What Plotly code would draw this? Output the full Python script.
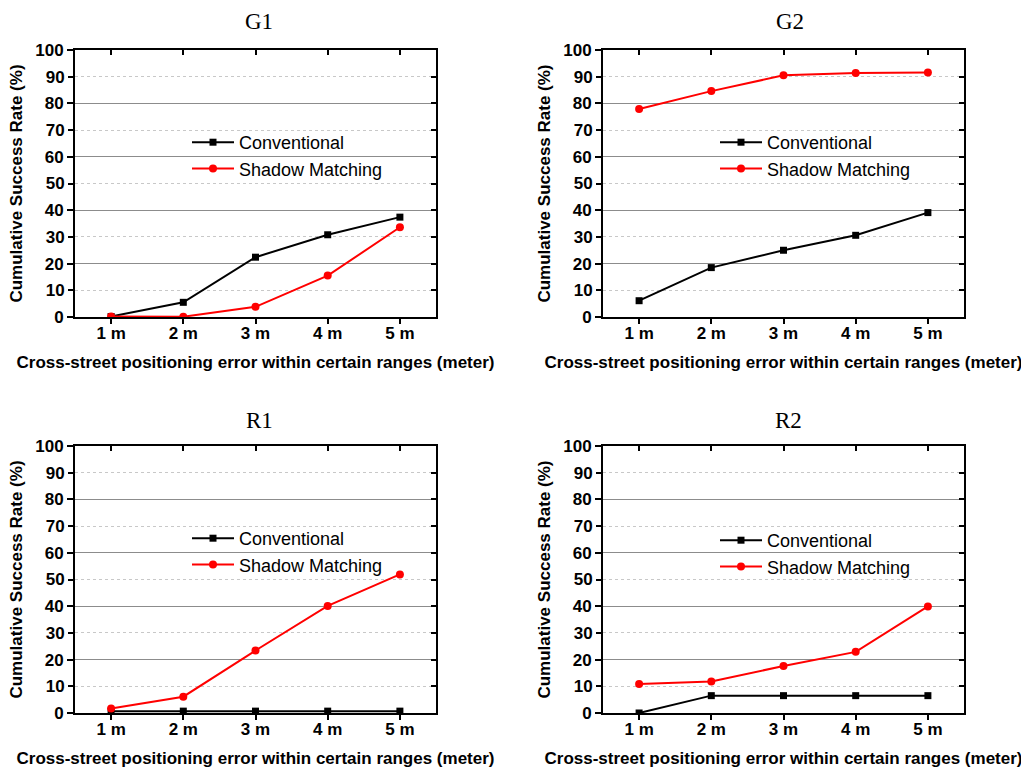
import plotly.graph_objects as go

# ---- data ----
categories = ["1 m", "2 m", "3 m", "4 m", "5 m"]
panel_names = ["G1", "G2", "R1", "R2"]
series_names = ["Conventional", "Shadow Matching"]

conv_g1 = [0.2, 5.5, 22.4, 30.8, 37.4]
shadow_g1 = [0.2, 0.1, 3.8, 15.5, 33.6]
conv_g2 = [6.1, 18.5, 25.0, 30.6, 39.1]
shadow_g2 = [77.9, 84.6, 90.5, 91.4, 91.6]
conv_r1 = [0.7, 0.7, 0.7, 0.7, 0.7]
shadow_r1 = [1.7, 6.1, 23.4, 40.1, 51.9]
conv_r2 = [0.0, 6.5, 6.5, 6.5, 6.5]
shadow_r2 = [10.9, 11.8, 17.6, 22.9, 39.9]

y_major = [0, 20, 40, 60, 80, 100]
y_minor = [10, 30, 50, 70, 90]
y_all = list(range(0, 101, 10))

x_title = "Cross-street positioning error within certain ranges (meter)"
y_title = "Cumulative Success Rate (%)"

# ---- layout helpers ----
W, H = 1021, 774
col_dom = [(75 / W, 436 / W), (603 / W, 964 / W)]
row_dom = [(1 - 317 / H, 1 - 50 / H), (1 - 713 / H, 1 - 446 / H)]
panel_data = [(conv_g1, shadow_g1), (conv_g2, shadow_g2),
              (conv_r1, shadow_r1), (conv_r2, shadow_r2)]

x_idx = list(range(1, len(categories) + 1))
x_range = [0.5, len(categories) + 0.5]

SANS = "Arial, Liberation Sans, sans-serif"
tick_font = dict(family=SANS, size=17, color="black", weight="bold")
title_font = dict(family=SANS, size=17, color="black", weight="bold")

fig = go.Figure()
layout = dict(
    width=W, height=H,
    margin=dict(l=0, r=0, t=0, b=0, autoexpand=False),
    paper_bgcolor="white", plot_bgcolor="white",
    annotations=[],
)

legend_pos = [(187, 124), (715, 124), (187, 520), (715, 522)]
title_pos = [(259, 22), (790, 22), (259, 420), (788, 420)]


def ghost(x, y, xa, ya):
    # invisible copy so that overlay axes get drawn
    return go.Scatter(x=x, y=y, mode="lines", opacity=0, showlegend=False,
                      hoverinfo="skip", line=dict(width=0),
                      xaxis=xa, yaxis=ya)


for k in range(1, 5):
    r, c = (k - 1) // 2, (k - 1) % 2
    xd, yd = col_dom[c], row_dom[r]
    conv, shadow = panel_data[k - 1]
    leg = "legend" if k == 1 else f"legend{k}"
    xa, ya = f"x{k}", f"y{k}"

    fig.add_trace(ghost(x_idx, conv, f"x{k + 4}", ya))
    fig.add_trace(ghost(x_idx, conv, xa, f"y{k + 4}"))
    fig.add_trace(ghost(x_idx, conv, xa, f"y{k + 8}"))

    fig.add_trace(go.Scatter(
        x=x_idx, y=conv, name=series_names[0], mode="lines+markers",
        line=dict(color="black", width=2),
        marker=dict(symbol="square", size=7, color="black"),
        xaxis=xa, yaxis=ya, legend=leg))
    fig.add_trace(go.Scatter(
        x=x_idx, y=shadow, name=series_names[1], mode="lines+markers",
        line=dict(color="#ff0000", width=2),
        marker=dict(symbol="circle", size=8, color="#ff0000"),
        xaxis=xa, yaxis=ya, legend=leg))

    # main x axis
    layout[f"xaxis{k}"] = dict(
        domain=list(xd), anchor=ya, range=x_range, automargin=False,
        tickmode="array", tickvals=x_idx, ticktext=categories,
        ticks="outside", ticklen=5, tickwidth=2, tickcolor="black",
        ticklabelstandoff=-5,
        showgrid=False, zeroline=False,
        showline=True, linewidth=2, linecolor="black", mirror=True,
        tickfont=tick_font,
        title=dict(text=x_title, font=title_font, standoff=14),
    )
    # top overlay (inside ticks)
    layout[f"xaxis{k + 4}"] = dict(
        overlaying=xa, anchor=ya, side="top", range=x_range, automargin=False,
        tickmode="array", tickvals=x_idx,
        ticks="inside", ticklen=5, tickwidth=2, tickcolor="black",
        showticklabels=False, showgrid=False, zeroline=False, showline=False,
    )
    # main y axis: solid major grid + dotted minor grid
    layout[f"yaxis{k}"] = dict(
        domain=list(yd), anchor=xa, range=[0, 100], automargin=False,
        tickmode="array", tickvals=y_major, ticktext=[str(v) for v in y_major],
        ticks="outside", ticklen=6, tickwidth=2, tickcolor="black",
        showgrid=True, gridcolor="#8c8c8c", gridwidth=1,
        minor=dict(tickmode="array", tickvals=y_minor, ticks="",
                   showgrid=True, gridcolor="#c8c8c8", gridwidth=1, griddash="dot"),
        zeroline=False,
        showline=True, linewidth=2, linecolor="black", mirror=True,
        tickfont=tick_font,
        title=dict(text=y_title, font=title_font, standoff=8),
    )
    # right overlay (inside ticks)
    layout[f"yaxis{k + 4}"] = dict(
        overlaying=ya, anchor=xa, side="right", range=[0, 100], automargin=False,
        tickmode="array", tickvals=y_all,
        ticks="inside", ticklen=5, tickwidth=2, tickcolor="black",
        showticklabels=False, showgrid=False, zeroline=False, showline=False,
    )
    # left overlay for odd labels
    layout[f"yaxis{k + 8}"] = dict(
        overlaying=ya, anchor=xa, side="left", range=[0, 100], automargin=False,
        tickmode="array", tickvals=y_minor, ticktext=[str(v) for v in y_minor],
        ticks="outside", ticklen=6, tickwidth=2, tickcolor="black",
        showgrid=False, zeroline=False, showline=False,
        tickfont=tick_font,
    )

    lx, ly = legend_pos[k - 1]
    layout[leg] = dict(
        x=lx / W, y=1 - ly / H, xanchor="left", yanchor="top",
        bgcolor="rgba(0,0,0,0)", borderwidth=0,
        font=dict(family=SANS, size=18, color="black"),
        tracegroupgap=0, itemwidth=42,
    )

    tx, ty = title_pos[k - 1]
    layout["annotations"].append(dict(
        text=panel_names[k - 1], x=tx / W, y=1 - ty / H,
        xref="paper", yref="paper", xanchor="center", yanchor="middle",
        showarrow=False,
        font=dict(family="Times New Roman, Liberation Serif, serif", size=23, color="black"),
    ))

fig.update_layout(**layout)
fig.write_html("out.html", config={"displayModeBar": False},
               post_script="document.body.style.margin='0';")
